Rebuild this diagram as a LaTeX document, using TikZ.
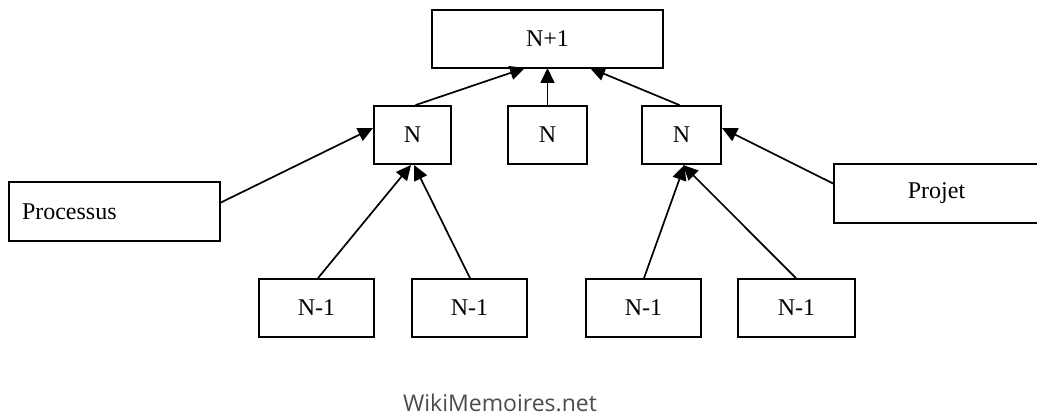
\documentclass[tikz,border=0pt]{standalone}
\usepackage{fontspec}
\setmainfont{Liberation Serif}
\newfontfamily\wmfont{Open Sans}
\usetikzlibrary{arrows.meta}
\tikzset{
  box/.style={draw=black, line width=1.8pt, fill=white, inner sep=0pt, font=\fontsize{24}{28}\selectfont},
  link/.style={draw=black, line width=1.7pt, -{Triangle[length=15pt,width=14pt]}},
}
\begin{document}
\begin{tikzpicture}[x=1pt,y=-1pt]
\fill[white] (0,0) rectangle (1037,417);
\clip (0,0) rectangle (1037,417);
% boxes
\node[box, minimum width=231pt, minimum height=58pt] (top) at (547.5,39) {N+1};
\node[box, minimum width=77pt, minimum height=58pt] (nl) at (412.5,135) {N};
\node[box, minimum width=79pt, minimum height=58pt] (nm) at (547.5,135) {N};
\node[box, minimum width=79pt, minimum height=58pt] (nr) at (681.5,135) {N};
\node[box, minimum width=211pt, minimum height=59pt, text width=185pt, align=left] (proc) at (114.5,211.5) {Processus};
\node[box, minimum width=215pt, minimum height=59pt] (proj) at (941.5,193.5) {\hspace*{-10pt}Projet};
\node[box, minimum width=115pt, minimum height=58pt] (a1) at (316.5,308) {N-1};
\node[box, minimum width=115pt, minimum height=58pt] (a2) at (469.5,308) {N-1};
\node[box, minimum width=115pt, minimum height=58pt] (a3) at (643.5,308) {N-1};
\node[box, minimum width=117pt, minimum height=58pt] (a4) at (796.5,308) {N-1};
% anchors for connectors
\coordinate (t1) at (525,68);
\coordinate (t2) at (547.5,68);
\coordinate (t3) at (590,68);
\coordinate (nl1) at (373,128);
\coordinate (nr1) at (722,128);
\coordinate (nlb1) at (411,165);
\coordinate (nlb2) at (414,165);
\coordinate (nrb1) at (684.5,165);
\coordinate (nrb2) at (683,165);
\draw[link] (nl.north) ++(3,0) -- (t1);
\draw[link] (nm.north) -- (t2);
\draw[link] (nr.north) ++(-2,0) -- (t3);
\draw[link] (proc.east) ++(0,-9) -- (nl1);
\draw[link] (proj.west) ++(0,-10) -- (nr1);
\draw[link] (a1.north) ++(1.5,0) -- (nlb1);
\draw[link] (a2.north) ++(0.5,0) -- (nlb2);
\draw[link] (a3.north) ++(0.5,0) -- (nrb1);
\draw[link] (a4.north) ++(-0.5,0) -- (nrb2);
% watermark
\node[font=\wmfont\fontsize{23}{27}\selectfont, text=black!70, inner sep=0pt] (wm) at (500,403) {WikiMemoires.net};
\end{tikzpicture}
\end{document}
